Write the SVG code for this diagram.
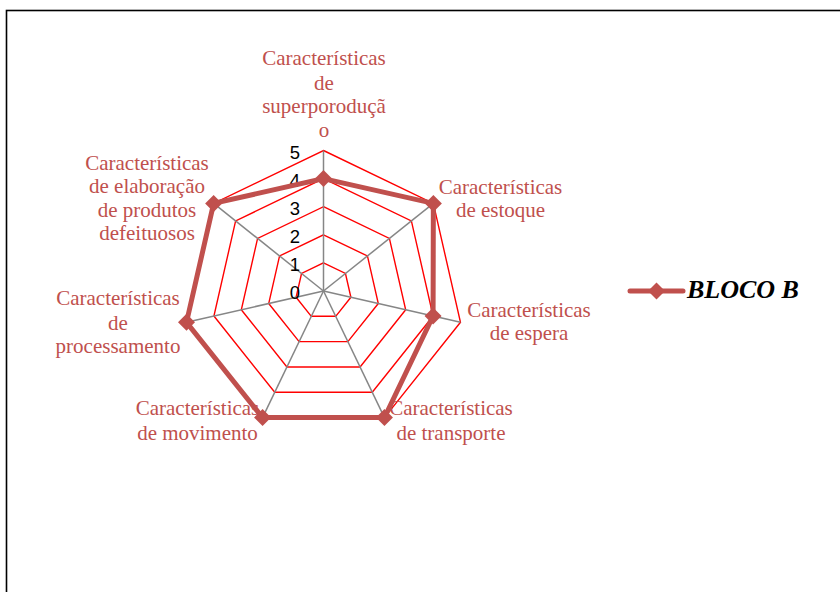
<svg xmlns="http://www.w3.org/2000/svg" xmlns:xlink="http://www.w3.org/1999/xlink" width="840" height="592" viewBox="0 0 840 592">
<style>
.grid{fill:none;stroke:#FF0000;stroke-width:1.4}
.spoke{stroke:#868686;stroke-width:1.5}
.series{fill:none;stroke:#C0504D;stroke-width:5;stroke-linejoin:miter}
.mk{fill:#C0504D}
.tick{font-family:"Liberation Sans",Arial,sans-serif;font-size:18.5px;fill:#000;text-anchor:end}
.cat{font-family:"Liberation Serif","Times New Roman",serif;font-size:21px;fill:#C0504D;text-anchor:middle}
.leg{font-family:"Liberation Serif","Times New Roman",serif;font-size:26px;font-weight:bold;font-style:italic;fill:#000}
</style>
<defs>
<path id="dia" d="M0,-8.5 L8.5,0 L0,8.5 L-8.5,0Z"/>
</defs>
<rect x="0" y="0" width="840" height="592" fill="#fff"/>
<rect x="6.5" y="10.5" width="850" height="600" fill="none" stroke="#000" stroke-width="1.6"/>
<g id="grid" transform="translate(323.5,291)">
<polygon class="grid" points="0,-28.1 21.97,-17.52 27.40,6.25 12.19,25.32 -12.19,25.32 -27.40,6.25 -21.97,-17.52"/>
<polygon class="grid" points="0,-56.2 43.94,-35.04 54.79,12.51 24.38,50.63 -24.38,50.63 -54.79,12.51 -43.94,-35.04"/>
<polygon class="grid" points="0,-84.3 65.91,-52.56 82.19,18.76 36.58,75.95 -36.58,75.95 -82.19,18.76 -65.91,-52.56"/>
<polygon class="grid" points="0,-112.4 87.88,-70.08 109.58,25.01 48.77,101.27 -48.77,101.27 -109.58,25.01 -87.88,-70.08"/>
<polygon class="grid" points="0,-140.5 109.85,-87.60 136.98,31.26 60.96,126.59 -60.96,126.59 -136.98,31.26 -109.85,-87.60"/>
<line class="spoke" x1="0" y1="0" x2="0" y2="-140.5"/>
<line class="spoke" x1="0" y1="0" x2="109.85" y2="-87.60"/>
<line class="spoke" x1="0" y1="0" x2="136.98" y2="31.26"/>
<line class="spoke" x1="0" y1="0" x2="60.96" y2="126.59"/>
<line class="spoke" x1="0" y1="0" x2="-60.96" y2="126.59"/>
<line class="spoke" x1="0" y1="0" x2="-136.98" y2="31.26"/>
<line class="spoke" x1="0" y1="0" x2="-109.85" y2="-87.60"/>
</g>
<g id="ticks">
<text class="tick" x="300" y="159">5</text>
<text class="tick" x="300" y="187">4</text>
<text class="tick" x="300" y="215">3</text>
<text class="tick" x="300" y="243">2</text>
<text class="tick" x="300" y="271">1</text>
<text class="tick" x="300" y="299">0</text>
</g>
<g id="series-bloco-b" transform="translate(323.5,291)">
<polygon class="series" points="0,-112.4 109.85,-87.60 109.58,25.01 60.96,126.59 -60.96,126.59 -136.98,31.26 -109.85,-87.60"/>
<use href="#dia" xlink:href="#dia" class="mk" x="0" y="-112.4"/>
<use href="#dia" xlink:href="#dia" class="mk" x="109.85" y="-87.60"/>
<use href="#dia" xlink:href="#dia" class="mk" x="109.58" y="25.01"/>
<use href="#dia" xlink:href="#dia" class="mk" x="60.96" y="126.59"/>
<use href="#dia" xlink:href="#dia" class="mk" x="-60.96" y="126.59"/>
<use href="#dia" xlink:href="#dia" class="mk" x="-136.98" y="31.26"/>
<use href="#dia" xlink:href="#dia" class="mk" x="-109.85" y="-87.60"/>
</g>
<g id="label-superproducao">
<text class="cat" x="324" y="65">Características</text>
<text class="cat" x="324" y="90">de</text>
<text class="cat" x="324" y="113">superporoduçã</text>
<text class="cat" x="324" y="137">o</text>
</g>
<g id="label-estoque">
<text class="cat" x="500.5" y="194">Características</text>
<text class="cat" x="500.5" y="217">de estoque</text>
</g>
<g id="label-espera">
<text class="cat" x="529" y="317">Características</text>
<text class="cat" x="529" y="340">de espera</text>
</g>
<g id="label-transporte">
<text class="cat" x="451" y="415">Características</text>
<text class="cat" x="451" y="440">de transporte</text>
</g>
<g id="label-movimento">
<text class="cat" x="197.5" y="415">Características</text>
<text class="cat" x="197.5" y="440">de movimento</text>
</g>
<g id="label-processamento">
<text class="cat" x="118" y="305">Características</text>
<text class="cat" x="118" y="330">de</text>
<text class="cat" x="118" y="353">processamento</text>
</g>
<g id="label-elaboracao">
<text class="cat" x="147" y="170">Características</text>
<text class="cat" x="147" y="193">de elaboração</text>
<text class="cat" x="147" y="217">de produtos</text>
<text class="cat" x="147" y="240">defeituosos</text>
</g>
<g id="legend">
<line x1="630" y1="291" x2="683" y2="291" stroke="#C0504D" stroke-width="5" stroke-linecap="round"/>
<use href="#dia" xlink:href="#dia" class="mk" x="656.5" y="291"/>
<text class="leg" x="687" y="298">BLOCO B</text>
</g>
</svg>
